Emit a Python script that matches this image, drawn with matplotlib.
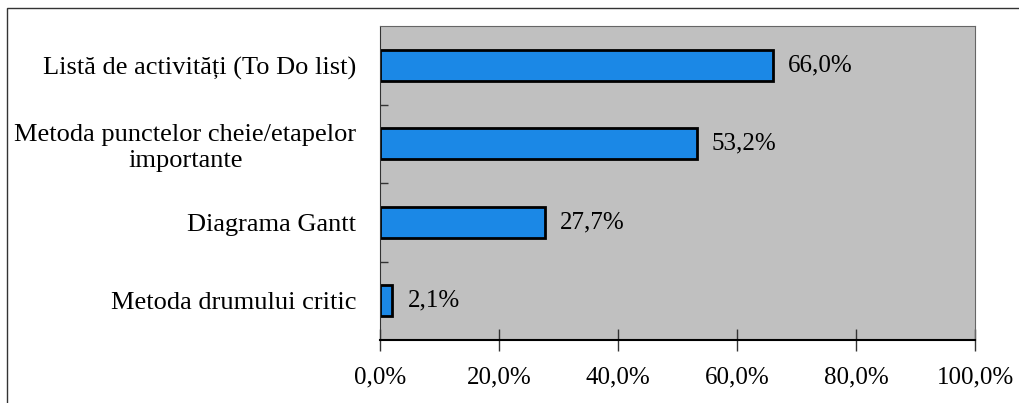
import matplotlib.pyplot as plt
from matplotlib.patches import Rectangle
from matplotlib.ticker import FuncFormatter, FixedLocator

plt.rcParams['font.family'] = ['Liberation Serif', 'DejaVu Serif']

categories = ['Listă de activități (To Do list)',
              'Metoda punctelor cheie/etapelor\nimportante',
              'Diagrama Gantt',
              'Metoda drumului critic']
values = [66.0, 53.2, 27.7, 2.1]
xticks = [0, 20, 40, 60, 80, 100]

W, H = 1019, 403
fig = plt.figure(figsize=(W / 100, H / 100), dpi=100)
# outer chart frame (only top and left visible)
fig.add_artist(Rectangle((7 / W, -0.1), 1.2, (H - 8) / H + 0.1, transform=fig.transFigure,
                         fill=False, edgecolor='#333333', linewidth=1.0))

ax = fig.add_axes([380 / W, 1 - 340 / H, (975 - 380) / W, (340 - 26) / H])
ax.set_facecolor('#C0C0C0')

n = len(categories)
ypos = list(range(n))
ax.barh(ypos, values, height=0.4, color='#1B88E6', edgecolor='black', linewidth=2)
ax.set_ylim(n - 0.5, -0.5)
ax.set_xlim(0, 100)

for y, v in zip(ypos, values):
    ax.annotate(f'{v:.1f}%'.replace('.', ','), (v, y), xytext=(11, 0), textcoords='offset points',
                va='center', ha='left', fontsize=18)

ax.set_yticks(ypos)
ax.set_yticklabels(categories, fontsize=19, multialignment='center')
ax.tick_params(axis='y', length=0, pad=17)
ax.yaxis.set_minor_locator(FixedLocator([i + 0.5 for i in range(n - 1)]))
ax.tick_params(axis='y', which='minor', direction='in', length=6, color='#333333', width=1)

ax.set_xticks(xticks)
ax.xaxis.set_major_formatter(FuncFormatter(lambda x, p: f'{x:.1f}%'.replace('.', ',')))
ax.tick_params(axis='x', direction='inout', length=16, width=1, color='#333333',
               labelsize=18, pad=11)

ax.spines['left'].set_color('#333333')
ax.spines['bottom'].set_color('black')
ax.spines['bottom'].set_linewidth(1.5)
ax.spines['top'].set_color('#666666')
ax.spines['right'].set_color('#666666')

fig.savefig('out.png', dpi=100)
